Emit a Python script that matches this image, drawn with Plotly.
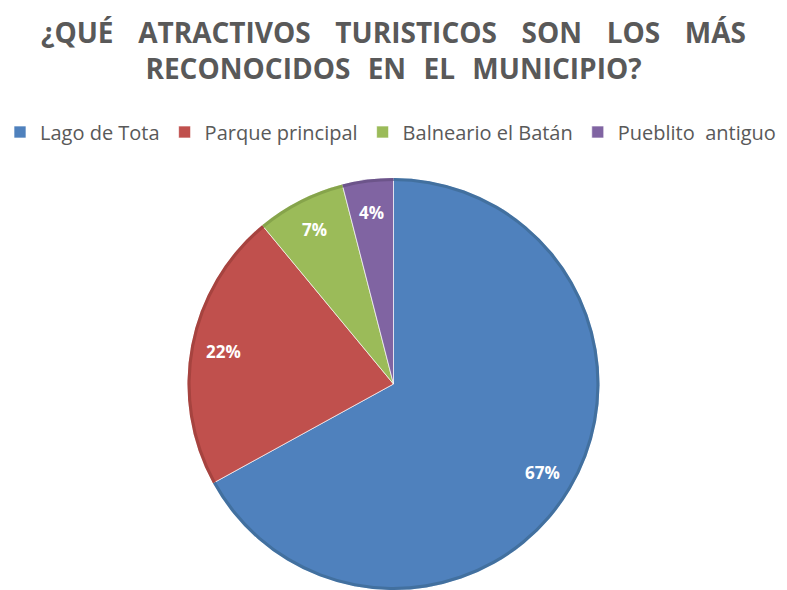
import math
import plotly.graph_objects as go

# Survey results: most recognised tourist attractions in the municipality
labels = ["Lago de Tota", "Parque principal", "Balneario el Batán", "Pueblito  antiguo"]
values = [67, 22, 7, 4]
colors = ["#4F81BD", "#C0504D", "#9BBB59", "#8064A2"]
rim_colors = ["#42709F", "#A6433F", "#86A44B", "#6C548A"]

W, H = 787, 590
TOP = 178  # top of the pie's plotting area, px

fig = go.Figure()
fig.add_trace(
    go.Pie(
        labels=labels,
        values=values,
        sort=False,
        direction="clockwise",
        rotation=0,
        textinfo="none",
        hoverinfo="label+percent",
        marker=dict(colors=colors, line=dict(color="rgba(255,255,255,0.65)", width=1)),
        domain=dict(x=[0, 1], y=[0, 1]),
    )
)
# Thin darker rim around the slices (bevel edge)
fig.add_trace(
    go.Pie(
        labels=labels,
        values=values,
        sort=False,
        direction="clockwise",
        rotation=0,
        hole=0.985,
        textinfo="none",
        hoverinfo="skip",
        showlegend=False,
        marker=dict(colors=rim_colors, line=dict(width=0)),
        domain=dict(x=[0, 1], y=[0, 1]),
    )
)

# Percentage labels placed along each slice's bisector
total = sum(values)
plot_h = H - TOP
radius = min(W, plot_h) / 2
cum = 0
for v in values:
    mid = (cum + v / 2) / total * 2 * math.pi
    cum += v
    r = 0.84 * radius
    fig.add_annotation(
        x=0.5 + r * math.sin(mid) / W,
        y=0.5 + r * math.cos(mid) / plot_h,
        xref="paper", yref="paper",
        xanchor="center", yanchor="middle",
        text=f"<b>{round(v / total * 100)}%</b>",
        showarrow=False,
        font=dict(family="Open Sans", size=17, color="white"),
    )

gap1 = "&nbsp;" * 3 + "&#8202;"
gap2 = "&nbsp;" * 2 + "&#8202;"
line1 = gap1.join(["¿QUÉ", "ATRACTIVOS", "TURISTICOS", "SON", "LOS", "MÁS"])
line2 = gap2.join(["RECONOCIDOS", "EN", "EL", "MUNICIPIO?"])

fig.update_layout(
    width=W, height=H,
    margin=dict(l=0, r=0, t=TOP, b=0),
    paper_bgcolor="white",
    plot_bgcolor="white",
    title=dict(
        text=f"<b>{line1}</b><br><b>{line2}</b>",
        x=0.5, xanchor="center",
        y=1 - 43 / H, yanchor="top",
        font=dict(family="Open Sans", size=28, color="#595959"),
    ),
    legend=dict(
        orientation="h",
        x=0, xanchor="left",
        y=1 - 132 / H, yref="container", yanchor="middle",
        font=dict(family="Open Sans", size=20, color="#595959"),
        itemclick=False,
    ),
)

fig.write_html("out.html")
